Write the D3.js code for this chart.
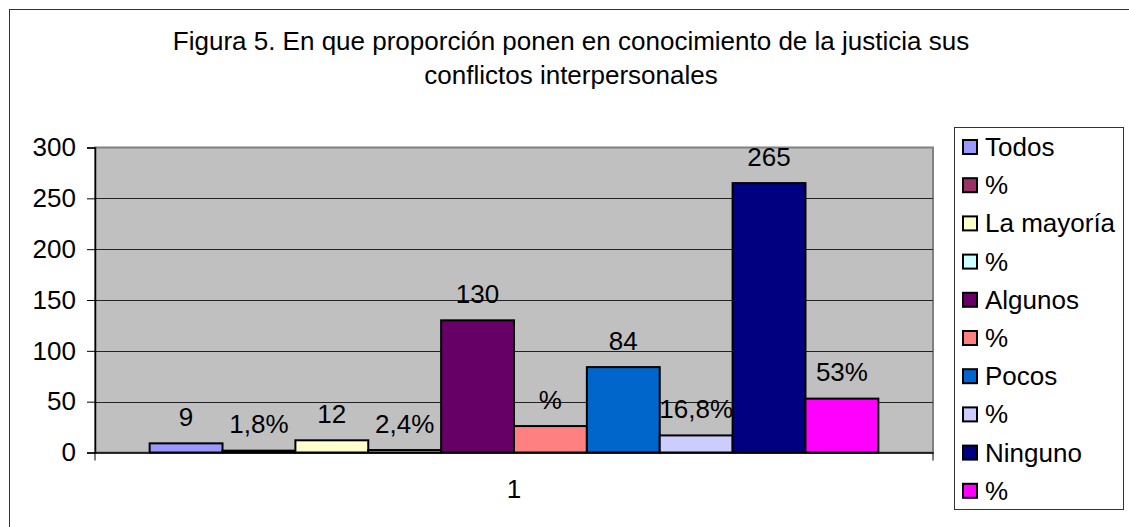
<!DOCTYPE html>
<html>
<head>
<meta charset="utf-8">
<script src="https://cdn.jsdelivr.net/npm/d3@7"></script>
<style>
  body { margin: 0; background: #fff; }
  text { font-family: "Liberation Sans", Arial, sans-serif; fill: #000; }
</style>
</head>
<body>
<script>
// data
var categories = ['1'];
var seriesNames = ['Todos', '%', 'La mayoría', '%', 'Algunos', '%', 'Pocos', '%', 'Ninguno', '%'];
var seriesValues = [9, 1.8, 12, 2.4, 130, 26, 84, 16.8, 265, 53];
var valueLabels = ['9', '1,8%', '12', '2,4%', '130', '%', '84', '16,8%', '265', '53%'];
var colors = ['#9999ff', '#993366', '#ffffcc', '#ccffff', '#660066', '#ff8080', '#0066cc', '#ccccff', '#000080', '#ff00ff'];
var yTicks = [0, 50, 100, 150, 200, 250, 300];
var titleLines = ['Figura 5. En que proporción ponen en conocimiento de la justicia sus', 'conflictos interpersonales'];

var W = 1129, H = 527;
var plot = {left: 95, top: 147.5, right: 933, bottom: 452.5};
var fs = '26px';

var svg = d3.select('body')
  .append('svg')
  .attr('width', W)
  .attr('height', H);

// outer chart frame (cut off at right and bottom)
svg.append('rect')
  .attr('x', 9.5).attr('y', 9.5)
  .attr('width', W + 10).attr('height', H + 10)
  .attr('fill', '#fff')
  .attr('stroke', '#333')
  .attr('stroke-width', 1);

svg.selectAll('.title')
  .data(titleLines)
  .enter()
  .append('text')
  .attr('class', 'title')
  .attr('x', 571)
  .attr('y', (d, i) => 50 + 34 * i)
  .attr('text-anchor', 'middle')
  .style('font-size', fs)
  .text(d => d);

var y = d3.scaleLinear().domain([0, 300]).range([plot.bottom, plot.top]);
var x0 = d3.scaleBand().domain(categories).range([plot.left, plot.right])
  .paddingInner(0).paddingOuter(0.075);
var x1 = d3.scaleBand().domain(d3.range(seriesValues.length)).range([0, x0.bandwidth()]);

// plot area
svg.append('rect')
  .attr('x', plot.left).attr('y', plot.top)
  .attr('width', plot.right - plot.left).attr('height', plot.bottom - plot.top)
  .attr('fill', '#c0c0c0')
  .attr('stroke', '#808080')
  .attr('stroke-width', 2);

svg.append('g')
  .selectAll('line')
  .data(yTicks.filter(d => d > 0 && d < 300))
  .enter()
  .append('line')
  .attr('x1', plot.left).attr('x2', plot.right)
  .attr('y1', d => Math.round(y(d)) + 0.5)
  .attr('y2', d => Math.round(y(d)) + 0.5)
  .attr('stroke', '#222')
  .attr('stroke-width', 1);

// y axis
var yAxis = svg.append('g')
  .attr('transform', 'translate(' + plot.left + ',0)')
  .call(d3.axisLeft(y).tickValues(yTicks).tickSize(8).tickPadding(11));
yAxis.select('.domain').attr('stroke', '#000').attr('stroke-width', 1.5);
yAxis.selectAll('.tick line').attr('stroke', '#000');
yAxis.selectAll('.tick text')
  .style('font-size', fs)
  .style('font-family', '"Liberation Sans", Arial, sans-serif')
  .attr('fill', '#000');

// bars
var group = svg.append('g')
  .attr('transform', 'translate(' + x0('1') + ',0)');

group.selectAll('rect')
  .data(seriesValues)
  .enter()
  .append('rect')
  .attr('x', (d, i) => x1(i))
  .attr('y', d => y(d))
  .attr('width', x1.bandwidth())
  .attr('height', d => y(0) - y(d))
  .attr('fill', (d, i) => colors[i])
  .attr('stroke', '#000')
  .attr('stroke-width', 2);

group.selectAll('.val')
  .data(seriesValues)
  .enter()
  .append('text')
  .attr('class', 'val')
  .attr('x', (d, i) => x1(i) + x1.bandwidth() / 2)
  .attr('y', d => y(d) - 17.5)
  .attr('text-anchor', 'middle')
  .style('font-size', fs)
  .text((d, i) => valueLabels[i]);

// x axis
var xAxis = svg.append('g')
  .attr('transform', 'translate(0,' + plot.bottom + ')')
  .call(d3.axisBottom(x0).tickSize(0).tickPadding(27));
xAxis.select('.domain').attr('stroke', '#000').attr('stroke-width', 1.5);
xAxis.selectAll('.tick text')
  .style('font-size', fs)
  .style('font-family', '"Liberation Sans", Arial, sans-serif')
  .attr('fill', '#000');
svg.selectAll('.xedge')
  .data([plot.left, plot.right])
  .enter()
  .append('line')
  .attr('class', 'xedge')
  .attr('x1', d => d).attr('x2', d => d)
  .attr('y1', plot.bottom).attr('y2', plot.bottom + 8)
  .attr('stroke', '#000');

// legend
var legend = svg.append('g');
legend.append('rect')
  .attr('x', 954.5).attr('y', 127.5)
  .attr('width', 169).attr('height', 382)
  .attr('fill', '#fff')
  .attr('stroke', '#333')
  .attr('stroke-width', 1);

var items = legend.selectAll('.item')
  .data(seriesNames)
  .enter()
  .append('g')
  .attr('class', 'item')
  .attr('transform', (d, i) => 'translate(0,' + (156 + 38.2 * i) + ')');

items.append('rect')
  .attr('x', 963).attr('y', -16)
  .attr('width', 14).attr('height', 14)
  .attr('fill', (d, i) => colors[i])
  .attr('stroke', '#000')
  .attr('stroke-width', 2);

items.append('text')
  .attr('x', 985)
  .attr('y', 0)
  .style('font-size', fs)
  .text(d => d);
</script>
</body>
</html>
